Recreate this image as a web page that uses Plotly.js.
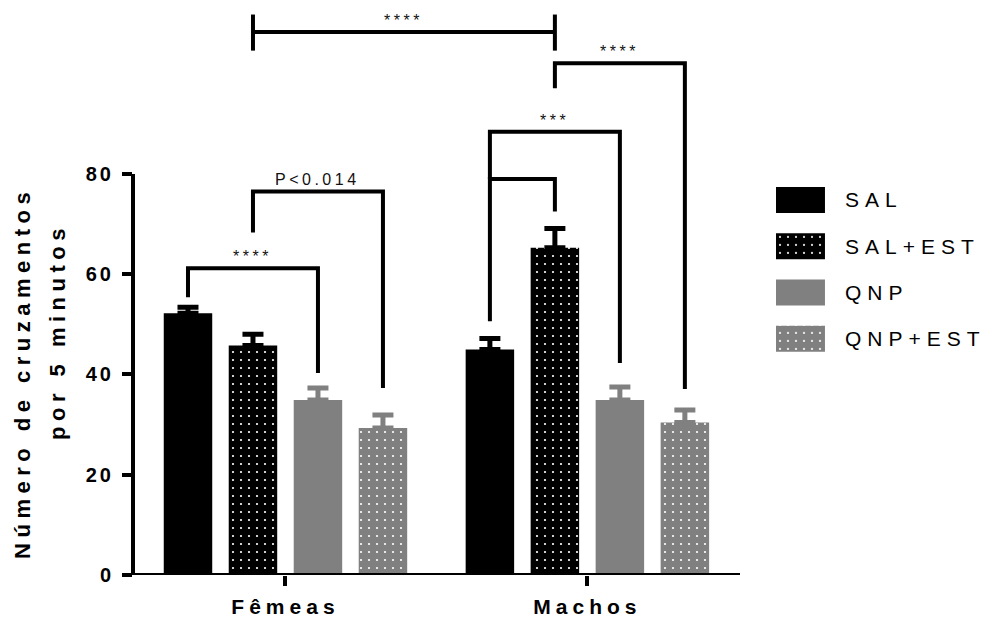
<!DOCTYPE html>
<html>
<head>
<meta charset="utf-8">
<script src="https://cdn.plot.ly/plotly-3.0.1.min.js"></script>
<style>
  html, body { margin: 0; padding: 0; background: #fff; }
  #chart { width: 994px; height: 618px; }
  /* wide character spacing of the figure's typography */
  .xtick text { letter-spacing: 5px; }
  .ytick text { letter-spacing: 3px; }
  .y2tick text { letter-spacing: 6px; }
  .annotation-text { letter-spacing: 3.5px; }
</style>
</head>
<body>
<div id="chart"></div>
<script>
// ---- data ----
const groups = ['Fêmeas', 'Machos'];
const seriesNames = ['SAL', 'SAL+EST', 'QNP', 'QNP+EST'];

const salMean    = [52.2, 45.0];
const salErr     = [1.2, 2.2];
const salEstMean = [45.8, 65.3];
const salEstErr  = [2.2, 3.8];
const qnpMean    = [34.9, 34.9];
const qnpErr     = [2.4, 2.6];
const qnpEstMean = [29.3, 30.4];
const qnpEstErr  = [2.6, 2.5];

const yTicks = [0, 20, 40, 60, 80];

// significance brackets: [group, series] at each end, leg bottoms, bracket height, label
const cmpFrom     = [[0, 0], [0, 1], [1, 0], [1, 0], [1, 1]];
const cmpTo       = [[0, 2], [0, 3], [1, 1], [1, 2], [1, 3]];
const cmpFromBase = [55.4, 68.3, 50.6, 79.0, 97.1];
const cmpToBase   = [40.3, 37.3, 72.5, 42.3, 37.1];
const cmpTop      = [61.2, 76.5, 79.0, 88.4, 102.1];
const cmpLabel    = ['****', 'P<0.014', '', '***', '****'];

// SAL+EST females vs SAL+EST males
const sexCmpFrom = [0, 1];
const sexCmpTo   = [1, 1];
const sexCmpLevel = 108.3;
const sexCmpCapLow = 104.6;
const sexCmpCapHigh = 111.8;
const sexCmpLabel = '****';

// ---- styling ----
const FONT = 'Liberation Sans, Arial, Helvetica, sans-serif';
const BLACK = '#000000';
const GREY = '#808080';
const seriesColor = [BLACK, BLACK, GREY, GREY];
const seriesDotted = [false, true, false, true];
const BARGAP = 0.139;
const BARGROUPGAP = 0.254;

const means = [salMean, salEstMean, qnpMean, qnpEstMean];
const errs = [salErr, salEstErr, qnpErr, qnpEstErr];

function markerFor(i) {
  const m = { color: seriesColor[i], line: { width: 0 } };
  if (seriesDotted[i]) {
    m.pattern = { shape: '.', fgcolor: '#ffffff', bgcolor: seriesColor[i],
                  size: 8, solidity: 0.06, fillmode: 'replace' };
  }
  return m;
}

// centre of a bar inside its group
function barX(group, series) {
  const n = seriesNames.length;
  const slot = (1 - BARGAP) / n;
  return group + (series - (n - 1) / 2) * slot;
}

const traces = means.map((m, i) => ({
  type: 'bar',
  name: seriesNames[i],
  x: groups.map((g, k) => k),
  y: m,
  marker: markerFor(i),
  error_y: {
    type: 'data', symmetric: false,
    array: errs[i], arrayminus: errs[i].map(() => 0),
    color: seriesColor[i], thickness: 5, width: 10.5
  },
  showlegend: false,
  hoverinfo: 'skip'
}));

// key: one swatch per series on a small side axis
seriesNames.forEach((n, i) => {
  traces.push({
    type: 'bar', orientation: 'h',
    x: [1], y: [i], base: 0,
    width: 0.5616, offset: -0.2808,
    xaxis: 'x2', yaxis: 'y2',
    marker: markerFor(i),
    showlegend: false, hoverinfo: 'skip'
  });
});

const shapes = [
  // y axis line, drawn only up to 80
  { type: 'line', xref: 'paper', yref: 'y', x0: 0, x1: 0, y0: 0, y1: yTicks[yTicks.length - 1],
    line: { color: BLACK, width: 4 } },
  // x axis line
  { type: 'line', xref: 'x domain', yref: 'y', x0: 0, x1: 1, y0: 0, y1: 0,
    line: { color: BLACK, width: 4 } }
];
const annotations = [];

cmpFrom.forEach((a, k) => {
  const xa = barX(a[0], a[1]);
  const xb = barX(cmpTo[k][0], cmpTo[k][1]);
  shapes.push({
    type: 'path', xref: 'x', yref: 'y',
    path: `M${xa},${cmpFromBase[k]}L${xa},${cmpTop[k]}L${xb},${cmpTop[k]}L${xb},${cmpToBase[k]}`,
    line: { color: BLACK, width: 4 }
  });
  if (cmpLabel[k]) {
    annotations.push({
      x: (xa + xb) / 2, y: cmpTop[k], xref: 'x', yref: 'y',
      text: cmpLabel[k], showarrow: false, yanchor: 'bottom', yshift: 1,
      font: { family: FONT, size: 16, color: '#111' }
    });
  }
});

{
  const xa = barX(sexCmpFrom[0], sexCmpFrom[1]);
  const xb = barX(sexCmpTo[0], sexCmpTo[1]);
  shapes.push({ type: 'line', xref: 'x', yref: 'y', x0: xa, x1: xb, y0: sexCmpLevel, y1: sexCmpLevel,
                line: { color: BLACK, width: 4 } });
  [xa, xb].forEach(x => shapes.push({ type: 'line', xref: 'x', yref: 'y', x0: x, x1: x,
                y0: sexCmpCapLow, y1: sexCmpCapHigh, line: { color: BLACK, width: 4 } }));
  annotations.push({
    x: (xa + xb) / 2, y: sexCmpLevel, xref: 'x', yref: 'y',
    text: sexCmpLabel, showarrow: false, yanchor: 'bottom', yshift: 1,
    font: { family: FONT, size: 16, color: '#111' }
  });
}

// y axis title, two lines
annotations.push({
  xref: 'paper', yref: 'paper', x: -0.1278, y: 0.3538, xanchor: 'center', yanchor: 'middle',
  textangle: -90, showarrow: false,
  text: '<span style="letter-spacing:5.5px">Número de cruzamentos</span>',
  font: { family: FONT, size: 22, weight: 'bold', color: BLACK }
});
annotations.push({
  xref: 'paper', yref: 'paper', x: -0.0883, y: 0.4273, xanchor: 'center', yanchor: 'middle',
  textangle: -90, showarrow: false,
  text: '<span style="letter-spacing:5.5px">por 5 minutos</span>',
  font: { family: FONT, size: 22, weight: 'bold', color: BLACK }
});

const layout = {
  width: 994, height: 618,
  margin: { l: 133, r: 0, t: 4, b: 43, autoexpand: false },
  paper_bgcolor: '#ffffff', plot_bgcolor: '#ffffff',
  barmode: 'group', bargap: BARGAP, bargroupgap: BARGROUPGAP,
  showlegend: false,
  xaxis: {
    domain: [0, 0.705], range: [-0.505, 1.5055], anchor: 'y',
    tickvals: groups.map((g, k) => k), ticktext: groups,
    ticks: 'outside', ticklen: 10, tickwidth: 4, tickcolor: BLACK,
    showline: false, showgrid: false, zeroline: false,
    ticklabelstandoff: 3,
    tickfont: { family: FONT, size: 21, weight: 'bold', color: BLACK }
  },
  yaxis: {
    range: [0, 113.9], anchor: 'x',
    tickvals: yTicks,
    ticks: 'outside', ticklen: 10, tickwidth: 4, tickcolor: BLACK,
    showline: false, showgrid: false, zeroline: false,
    ticklabelstandoff: 4,
    tickfont: { family: FONT, size: 20, weight: 'bold', color: BLACK }
  },
  xaxis2: { domain: [0.7468, 0.8037], range: [0, 1], anchor: 'y2', visible: false },
  yaxis2: {
    domain: [0.3734, 0.6972], range: [3.5, -0.5], anchor: 'x2', side: 'right',
    tickvals: seriesNames.map((n, i) => i), ticktext: seriesNames,
    ticks: '', showline: false, showgrid: false, zeroline: false,
    ticklabelstandoff: 19,
    tickfont: { family: FONT, size: 21, color: BLACK }
  },
  shapes: shapes,
  annotations: annotations
};

Plotly.newPlot('chart', traces, layout, { staticPlot: true, displayModeBar: false });
</script>
</body>
</html>
